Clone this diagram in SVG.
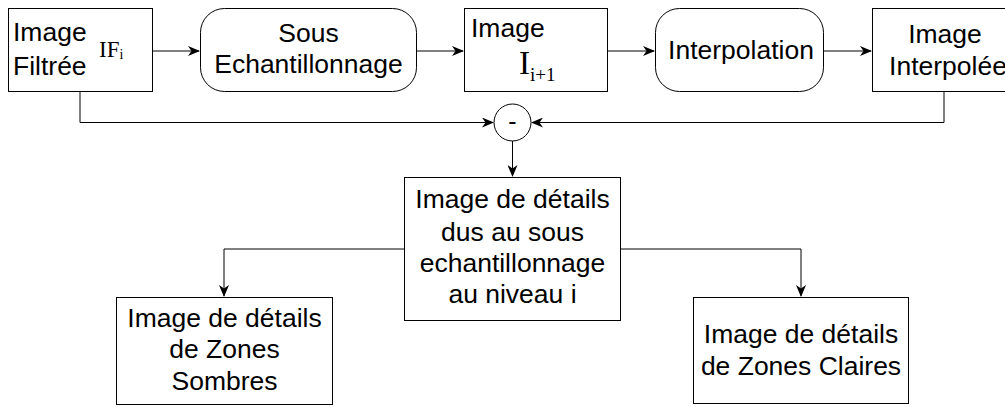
<svg xmlns="http://www.w3.org/2000/svg" width="1005" height="407" viewBox="0 0 1005 407">
  <style>
    .box { fill: #ffffff; stroke: #000000; stroke-width: 1; }
    .wire { fill: none; stroke: #000000; stroke-width: 1; }
    .lbl { font-family: "Liberation Sans", Arial, sans-serif; font-size: 25px; fill: #000000; }
    .mid { text-anchor: middle; }
    .math { font-family: "Liberation Serif", "Times New Roman", serif; fill: #000000; }
  </style>
  <defs>
    <marker id="arrow" viewBox="0 0 12 10" refX="11" refY="5" markerWidth="12" markerHeight="10" markerUnits="userSpaceOnUse" orient="auto">
      <path d="M0,0 L12,5 L0,10 L3.5,5 Z" fill="#000000"/>
    </marker>
  </defs>

  <rect width="1005" height="407" fill="#ffffff"/>

  <!-- connectors -->
  <g id="connectors">
    <path class="wire" d="M153,51 H199" marker-end="url(#arrow)"/>
    <path class="wire" d="M417,51 H463" marker-end="url(#arrow)"/>
    <path class="wire" d="M608,51 H654" marker-end="url(#arrow)"/>
    <path class="wire" d="M824,51 H871" marker-end="url(#arrow)"/>
    <path class="wire" d="M80,92 V122.5 H493" marker-end="url(#arrow)"/>
    <path class="wire" d="M944,92 V122.5 H532" marker-end="url(#arrow)"/>
    <path class="wire" d="M512.5,141 V176" marker-end="url(#arrow)"/>
    <path class="wire" d="M404,249 H224 V296" marker-end="url(#arrow)"/>
    <path class="wire" d="M621,249 H801 V296" marker-end="url(#arrow)"/>
  </g>

  <!-- filtered image -->
  <g id="image-filtree">
    <rect class="box" x="8.5" y="8.5" width="144" height="83"/>
    <g transform="translate(13,41) scale(1.06,1)"><text class="lbl" x="0" y="0">Image</text></g>
    <g transform="translate(13,75) scale(1.06,1)"><text class="lbl" x="0" y="0">Filtrée</text></g>
    <text class="math" x="99" y="57" font-size="23">IF<tspan font-size="14" dy="2">i</tspan></text>
  </g>

  <!-- downsampling -->
  <g id="sous-echantillonnage">
    <rect class="box" x="200.5" y="8.5" width="216" height="83" rx="24" ry="24"/>
    <g transform="translate(308.5,42) scale(1.06,1)"><text class="lbl mid" x="0" y="0">Sous</text></g>
    <g transform="translate(308.5,73) scale(1.06,1)"><text class="lbl mid" x="0" y="0">Echantillonnage</text></g>
  </g>

  <!-- image at next level -->
  <g id="image-i1">
    <rect class="box" x="464.5" y="8.5" width="143" height="83"/>
    <g transform="translate(471,37) scale(1.06,1)"><text class="lbl" x="0" y="0">Image</text></g>
    <text class="math" x="519" y="74" font-size="33">I<tspan font-size="19" dy="7">i+1</tspan></text>
  </g>

  <!-- interpolation -->
  <g id="interpolation">
    <rect class="box" x="655.5" y="8.5" width="168" height="83" rx="24" ry="24"/>
    <g transform="translate(741,59) scale(1.06,1)"><text class="lbl mid" x="0" y="0">Interpolation</text></g>
  </g>

  <!-- interpolated image -->
  <g id="image-interpolee">
    <rect class="box" x="872.5" y="8.5" width="145" height="83"/>
    <g transform="translate(945,43) scale(1.06,1)"><text class="lbl mid" x="0" y="0">Image</text></g>
    <g transform="translate(948,75) scale(1.06,1)"><text class="lbl mid" x="0" y="0">Interpolée</text></g>
  </g>

  <!-- difference -->
  <g id="difference">
    <circle class="box" cx="512.5" cy="122.5" r="18.5"/>
    <text class="lbl mid" x="512.5" y="130">-</text>
  </g>

  <!-- detail image -->
  <g id="image-details">
    <rect class="box" x="404.5" y="177.5" width="216" height="143"/>
    <g transform="translate(512.5,208) scale(1.06,1)"><text class="lbl mid" x="0" y="0">Image de détails</text></g>
    <g transform="translate(512.5,241) scale(1.06,1)"><text class="lbl mid" x="0" y="0">dus au sous</text></g>
    <g transform="translate(512.5,272) scale(1.06,1)"><text class="lbl mid" x="0" y="0">echantillonnage</text></g>
    <g transform="translate(512.5,303) scale(1.06,1)"><text class="lbl mid" x="0" y="0">au niveau i</text></g>
  </g>

  <!-- dark zones -->
  <g id="zones-sombres">
    <rect class="box" x="116.5" y="297.5" width="216" height="107"/>
    <g transform="translate(224.5,327) scale(1.06,1)"><text class="lbl mid" x="0" y="0">Image de détails</text></g>
    <g transform="translate(224.5,358) scale(1.06,1)"><text class="lbl mid" x="0" y="0">de Zones</text></g>
    <g transform="translate(224.5,390) scale(1.06,1)"><text class="lbl mid" x="0" y="0">Sombres</text></g>
  </g>

  <!-- bright zones -->
  <g id="zones-claires">
    <rect class="box" x="693.5" y="297.5" width="215" height="106"/>
    <g transform="translate(801,343) scale(1.06,1)"><text class="lbl mid" x="0" y="0">Image de détails</text></g>
    <g transform="translate(801,375) scale(1.06,1)"><text class="lbl mid" x="0" y="0">de Zones Claires</text></g>
  </g>
</svg>
